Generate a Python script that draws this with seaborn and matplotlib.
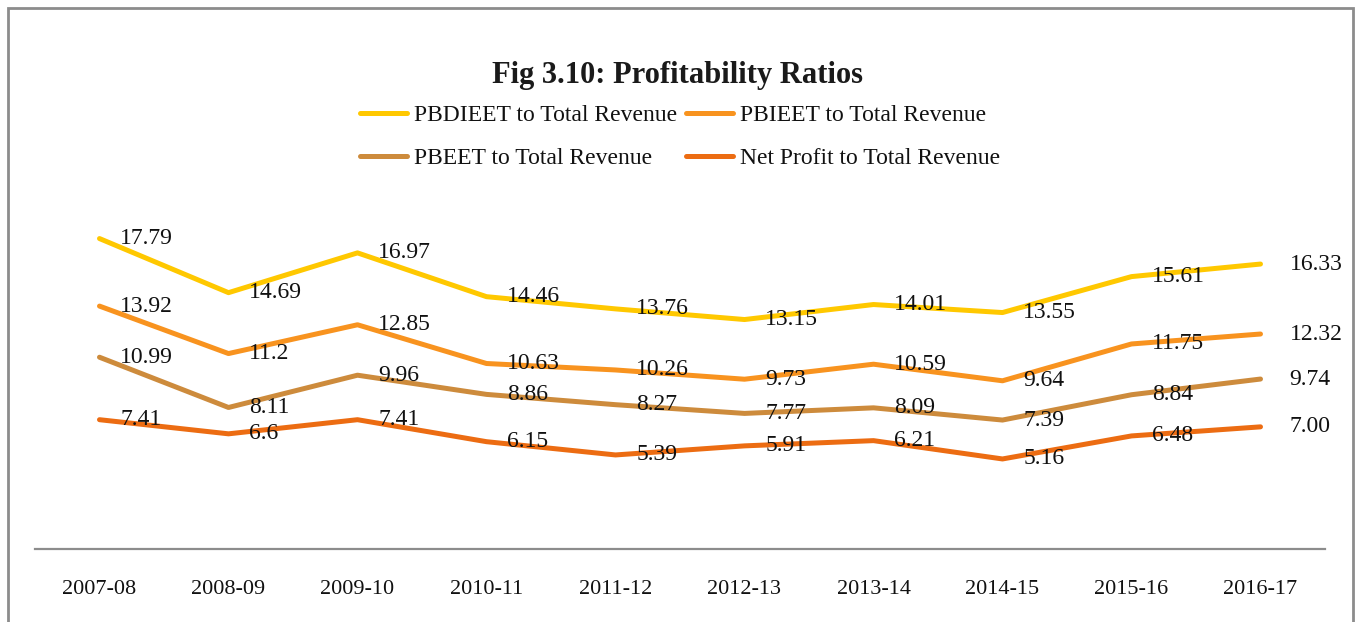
import numpy as np
import pandas as pd
import matplotlib
matplotlib.use('Agg')
import matplotlib.pyplot as plt
import seaborn as sns
from matplotlib.lines import Line2D

# ---- data ----
years = ['2007-08', '2008-09', '2009-10', '2010-11', '2011-12',
         '2012-13', '2013-14', '2014-15', '2015-16', '2016-17']
pbdieet = [17.79, 14.69, 16.97, 14.46, 13.76, 13.15, 14.01, 13.55, 15.61, 16.33]
pbieet = [13.92, 11.2, 12.85, 10.63, 10.26, 9.73, 10.59, 9.64, 11.75, 12.32]
pbeet = [10.99, 8.11, 9.96, 8.86, 8.27, 7.77, 8.09, 7.39, 8.84, 9.74]
net_profit = [7.41, 6.6, 7.41, 6.15, 5.39, 5.91, 6.21, 5.16, 6.48, 7.00]

series_names = ['PBDIEET to Total Revenue', 'PBIEET to Total Revenue',
                'PBEET to Total Revenue', 'Net Profit to Total Revenue']
colors = ['#FFC800', '#F8931F', '#CD8B3C', '#EC6C12']

df = pd.DataFrame({'Year': years,
                   series_names[0]: pbdieet,
                   series_names[1]: pbieet,
                   series_names[2]: pbeet,
                   series_names[3]: net_profit})
df_long = df.melt(id_vars='Year', var_name='Series', value_name='Value')

# ---- style ----
sns.set_style('white')
plt.rcParams['font.family'] = ['Liberation Serif', 'DejaVu Serif']

fig = plt.figure(figsize=(13.55, 6.22), dpi=100)
ax = fig.add_axes([35 / 1355, 1 - 549 / 622, 1290 / 1355, 349 / 622])

sns.lineplot(data=df_long, x='Year', y='Value', hue='Series',
             hue_order=series_names, palette=colors, linewidth=3.6,
             sort=False, legend=False, ax=ax)

# data labels
for name, col in zip(series_names, colors):
    vals = df[name].values
    for i, v in enumerate(vals):
        txt = f'{v:.2f}' if i == len(vals) - 1 else f'{v:g}'
        off = 21 if i == len(vals) - 1 else 15
        ax.annotate(txt, (i, v), xytext=(off, 0), textcoords='offset points',
                    ha='left', va='center', fontsize=17, color='#111111')

ax.set_xlim(-0.5, len(years) - 0.5)
ax.set_ylim(0, 20)
ax.set_yticks([])
ax.set_xlabel('')
ax.set_ylabel('')
for s in ['top', 'right', 'left']:
    ax.spines[s].set_visible(False)
ax.spines['bottom'].set_color('#8c8c8c')
ax.spines['bottom'].set_linewidth(1.6)
ax.tick_params(axis='x', length=0, pad=22, labelsize=16, labelcolor='#111111')

# title
fig.text(0.5, 1 - 75 / 622, 'Fig 3.10: Profitability Ratios', ha='center',
         va='center', fontsize=22, fontweight='bold', color='#1a1a1a')

# legend, row-major order
order = [0, 2, 1, 3]
handles = [Line2D([0], [0], color=colors[k], lw=3.6) for k in order]
labels = [series_names[k] for k in order]
fig.legend(handles, labels, loc='center', ncol=2,
           bbox_to_anchor=(0.502, 1 - 137 / 622), frameon=False, fontsize=17,
           handlelength=2.0, handletextpad=0.3, columnspacing=0.35,
           labelspacing=0.9, labelcolor='#111111')

# outer border
fig.patches.append(plt.Rectangle((8 / 1355, -0.05), 1345 / 1355, 1.05 - 8 / 622,
                                 transform=fig.transFigure, fill=False,
                                 edgecolor='#8c8c8c', linewidth=2))

fig.savefig('out.png', dpi=100, facecolor='white')
